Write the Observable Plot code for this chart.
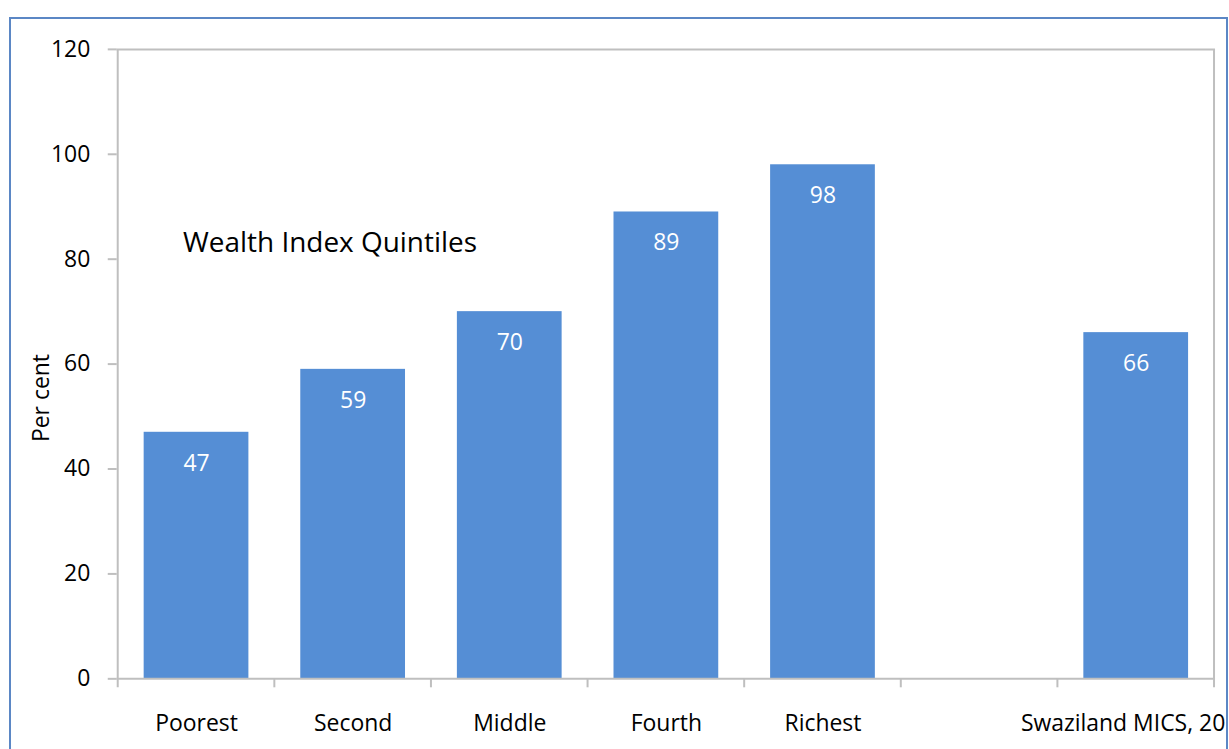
<!DOCTYPE html>
<html>
<head>
<meta charset="utf-8">
<script src="https://cdn.jsdelivr.net/npm/d3@7"></script>
<script src="https://cdn.jsdelivr.net/npm/@observablehq/plot@0.6"></script>
<style>
  html, body { margin: 0; padding: 0; background: #ffffff; }
  #wrap { position: relative; width: 1229px; height: 749px; overflow: hidden; }
  #clip { position: absolute; left: 0; top: 0; width: 1226px; height: 749px; overflow: hidden; }
  #border {
    position: absolute; left: 9px; top: 17px; width: 1215px; height: 760px;
    border: 2px solid #5b87c5; box-sizing: content-box; pointer-events: none;
  }
</style>
</head>
<body>
<div id="wrap">
  <div id="clip"></div>
  <div id="border"></div>
</div>
<script>
// Categories along the x axis; the empty slot separates the quintiles from the national figure
const categories = ["Poorest", "Second", "Middle", "Fourth", "Richest", "Swaziland MICS, 2014"];
const values = [47, 59, 70, 89, 98, 66];
const xDomain = ["Poorest", "Second", "Middle", "Fourth", "Richest", "", "Swaziland MICS, 2014"];
const yTicks = [0, 20, 40, 60, 80, 100, 120];
const yDomain = [0, 120];

const barColor = "#558ed5";
const lineGray = "#bfbfbf";
const font = "'Open Sans', sans-serif";

const rows = categories.map((category, i) => ({category, value: values[i]}));

// Tick marks on the category boundaries, plus the left axis line and the right plot edge
function boundaryTicks(index, scales) {
  const x = scales.x, y = scales.y;
  const bw = x.bandwidth ? x.bandwidth() : 0;
  const step = x.step ? x.step() : bw / 0.67;
  const half = (step - bw) / 2;
  const edges = xDomain.map(c => x(c) - half);
  edges.push(x(xDomain[xDomain.length - 1]) + bw + half);
  const g = d3.create("svg:g").attr("stroke", lineGray).attr("stroke-width", 2);
  edges.forEach((px, i) => {
    const top = (i === 0 || i === edges.length - 1) ? y(yDomain[1]) : y(0);
    g.append("line")
      .attr("x1", px).attr("x2", px)
      .attr("y1", top).attr("y2", y(0) + 9);
  });
  return g.node();
}

const chart = Plot.plot({
  width: 1229,
  height: 749,
  marginLeft: 117,
  marginRight: 11,
  marginTop: 49,
  marginBottom: 69,
  style: {fontFamily: font, fontSize: "23px", color: "#000", background: "transparent"},
  x: {domain: xDomain, paddingInner: 0.33, paddingOuter: 0.165, axis: null},
  y: {domain: yDomain, axis: null},
  marks: [
    Plot.barY(rows, {x: "category", y: "value", fill: barColor}),
    Plot.text(rows, {
      x: "category", y: "value", text: d => String(d.value),
      fill: "#ffffff", dy: 31, fontSize: 23, lineAnchor: "middle"
    }),
    Plot.ruleY(yTicks.filter(t => t === 0 || t === yDomain[1]), {stroke: lineGray, strokeWidth: 2}),
    Plot.axisY({
      ticks: yTicks, tickSize: 9, tickPadding: 18, stroke: lineGray, strokeWidth: 2,
      fill: "#000", fontSize: 23, label: null
    }),
    Plot.axisX({
      tickSize: 0, tickPadding: 36, fill: "#000", fontSize: 23, label: null
    }),
    boundaryTicks,
    Plot.text(["Wealth Index Quintiles"], {
      frameAnchor: "top-left", dx: 66, dy: 194, textAnchor: "start",
      lineAnchor: "middle", fontSize: 28, fill: "#000"
    }),
    Plot.text(["Per cent"], {
      frameAnchor: "left", rotate: -90, dx: -76, dy: 34,
      textAnchor: "middle", lineAnchor: "middle", fontSize: 23, fill: "#000"
    })
  ]
});

document.getElementById("clip").appendChild(chart);
</script>
</body>
</html>
